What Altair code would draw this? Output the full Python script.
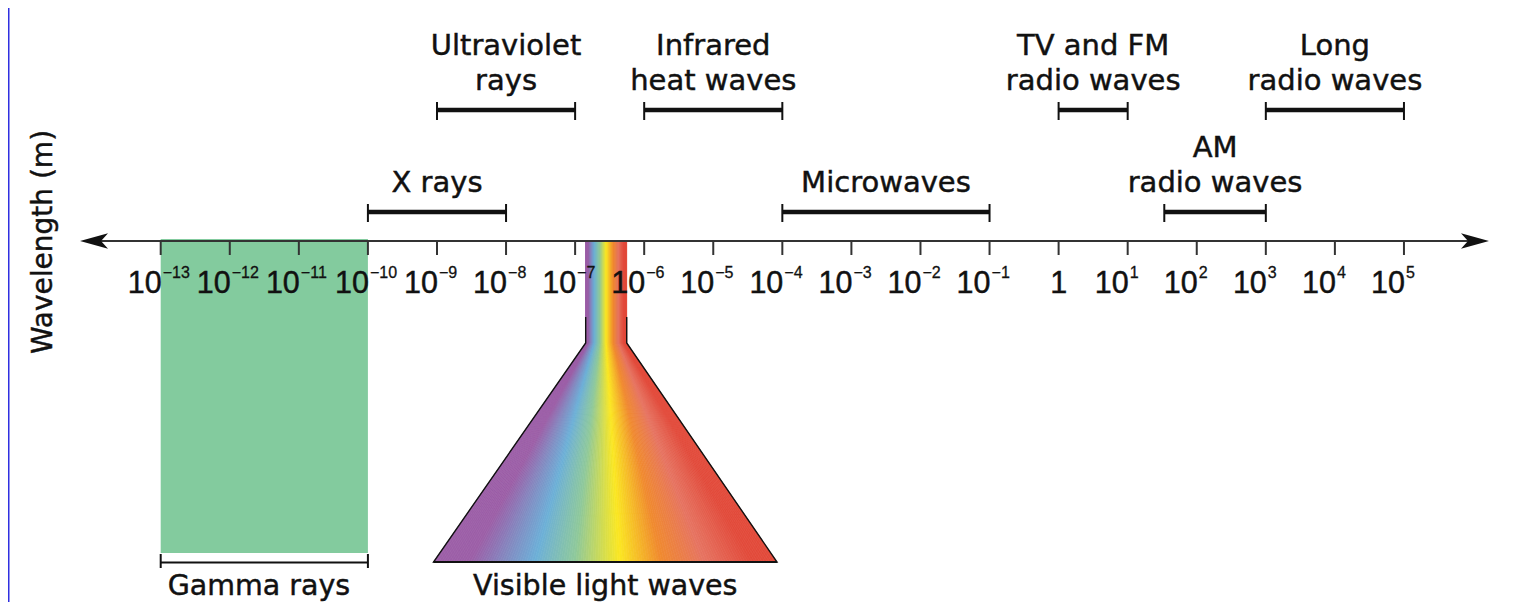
import altair as alt
import numpy as np
import pandas as pd

# ---------------- data (x = log10 of wavelength in metres) ----------------
TICK_EXP = list(range(-13, 6))
TICK_BASE = ["1" if e == 0 else "10" for e in TICK_EXP]
TICK_SUP = ["" if e == 0 else str(e).replace("-", "\u2212") for e in TICK_EXP]

BAND_TOP_LINE = ["", "Ultraviolet", "Infrared", "", "TV and FM", "AM", "Long"]
BAND_BOTTOM_LINE = ["X rays", "rays", "heat waves", "Microwaves",
                    "radio waves", "radio waves", "radio waves"]
BAND_LO = [-10, -9, -6, -4, 0, 1.53, 3]
BAND_HI = [-8, -7, -4, -1, 1, 3, 5]
BAND_TIER = [1, 2, 2, 1, 2, 1, 2]

GAMMA_LABEL = ["Gamma rays"]
GAMMA_LO = [-13]
GAMMA_HI = [-10]

VIS_LABEL = ["Visible light waves"]
VIS_COLORS = ["#9c5fa7", "#6db0d8", "#8fc99b", "#fbe823", "#f08a2f", "#e67462", "#e24b3b"]
# band boundaries / centres: left edge, 7 colour centres, right edge
VIS_BASE = [-9.050, -8.522, -7.581, -7.002, -6.350, -5.742, -5.120, -4.439, -4.077]
VIS_NECK = [-6.847, -6.806, -6.719, -6.640, -6.546, -6.444, -6.365, -6.292, -6.253]

AXIS_ENDS = [-14.168, 6.231]
AXIS_TITLE = ["Wavelength (m)"]

# ---------------- layout / style ----------------
W, H = 1500, 594
X_DOMAIN = [-15.2108, 6.5063]
AXIS_Y = 233
TICK_Y2 = 247
TIER_SCALE = alt.Scale(domain=[1, 2], range=[204, 102], nice=False, zero=False)
CONE_SCALE = alt.Scale(domain=[0, 1, 2], range=[233, 335, 554], nice=False, zero=False)
NECK_LINE_TOP = 0.745
LABEL_FONT = "DejaVu Sans"
NUM_FONT = "Liberation Sans"
INK = "#111111"
LINE_GAP = 35
TXT = dict(color=INK, stroke=INK, strokeWidth=0.45)


def X(field, **kw):
    return alt.X(field, type="quantitative",
                 scale=alt.Scale(domain=X_DOMAIN, nice=False, zero=False),
                 axis=None, **kw)


one = pd.DataFrame({"k": [0]})
ticks_df = pd.DataFrame({"exp": TICK_EXP, "base": TICK_BASE, "sup": TICK_SUP})
bands_df = pd.DataFrame({"top": BAND_TOP_LINE, "bottom": BAND_BOTTOM_LINE,
                         "lo": BAND_LO, "hi": BAND_HI, "tier": BAND_TIER})
gamma_df = pd.DataFrame({"label": GAMMA_LABEL, "lo": GAMMA_LO, "hi": GAMMA_HI})
vis_df = pd.DataFrame({"label": VIS_LABEL, "lo": [VIS_BASE[0]], "hi": [VIS_BASE[-1]]})
axis_df = pd.DataFrame({"lo": [AXIS_ENDS[0]], "hi": [AXIS_ENDS[1]]})
title_df = pd.DataFrame({"t": AXIS_TITLE})

# rainbow fan drawn as thin wedges coloured through a colour scale
u_stops = (np.array(VIS_BASE) - VIS_BASE[0]) / (VIS_BASE[-1] - VIS_BASE[0])
n_strips = 140
edges = np.linspace(0, 1, n_strips + 1)
rows = []
for i in range(n_strips):
    a, b = edges[i], edges[i + 1]
    nl, nr = np.interp([a, b], u_stops, VIS_NECK)
    bl, br = np.interp([a, b], u_stops, VIS_BASE)
    um = (a + b) / 2
    for lvl, (l, r) in zip([0, 1, 2], [(nl, nr), (nl, nr), (bl, br)]):
        rows.append({"strip": i, "level": lvl, "xl": l, "xr": r, "u": um})
strips_df = pd.DataFrame(rows)
color_scale = alt.Scale(domain=list(u_stops[1:-1]), range=VIS_COLORS, clamp=True, interpolate="rgb")

outline_df = pd.DataFrame({
    "x": [VIS_NECK[0], VIS_NECK[0], VIS_BASE[0], VIS_BASE[-1], VIS_NECK[-1], VIS_NECK[-1]],
    "level": [NECK_LINE_TOP, 1, 2, 2, 1, NECK_LINE_TOP],
    "o": list(range(6)),
})

# ---------------- layers ----------------
frame = alt.Chart(one).mark_rect(color="#2f2fe0").encode(
    x=alt.value(0), x2=alt.value(1.5), y=alt.value(0), y2=alt.value(H))

gamma_rect = alt.Chart(gamma_df).mark_rect(color="#83cb9e").encode(
    x=X("lo"), x2="hi:Q", y=alt.value(231), y2=alt.value(545))

cone = alt.Chart(strips_df).mark_area(orient="horizontal", strokeWidth=0.7, opacity=1).encode(
    y=alt.Y("level:Q", scale=CONE_SCALE, axis=None),
    x=X("xl", stack=False),
    x2="xr:Q",
    detail="strip:N",
    fill=alt.Fill("u:Q", scale=color_scale, legend=None),
    stroke=alt.Stroke("u:Q", scale=color_scale, legend=None),
)

outline = alt.Chart(outline_df).mark_line(color=INK, strokeWidth=1.4).encode(
    x=X("x"), y=alt.Y("level:Q", scale=CONE_SCALE, axis=None), order="o:Q")

cone_base = alt.Chart(vis_df).mark_rule(color=INK, strokeWidth=2).encode(
    x=X("lo"), x2="hi:Q", y=alt.value(554))

axis_line = alt.Chart(axis_df).mark_rule(color="#333333", strokeWidth=2, xOffset=6, x2Offset=-6).encode(
    x=X("lo"), x2="hi:Q", y=alt.value(AXIS_Y))

tick_marks = alt.Chart(ticks_df).mark_rule(color="#333333", strokeWidth=2).encode(
    x=X("exp"), y=alt.value(AXIS_Y), y2=alt.value(TICK_Y2))

arrow_left = alt.Chart(axis_df).mark_point(
    shape="M -1 0 L 1 -0.55 L 0.5 0 L 1 0.55 Z", size=784, filled=True, opacity=1,
    color=INK, strokeWidth=0, xOffset=14).encode(x=X("lo"), y=alt.value(AXIS_Y))
arrow_right = alt.Chart(axis_df).mark_point(
    shape="M 1 0 L -1 -0.55 L -0.5 0 L -1 0.55 Z", size=784, filled=True, opacity=1,
    color=INK, strokeWidth=0, xOffset=-14).encode(x=X("hi"), y=alt.value(AXIS_Y))

bracket_line = alt.Chart(bands_df).mark_rule(color=INK, strokeWidth=4.5, strokeCap="butt").encode(
    x=X("lo"), x2="hi:Q", y=alt.Y("tier:Q", scale=TIER_SCALE, axis=None))
bracket_caps = alt.Chart(bands_df).transform_fold(["lo", "hi"], as_=["end", "pos"]).mark_rule(
    color=INK, strokeWidth=2, yOffset=-8, y2Offset=10).encode(
    x=X("pos"), y=alt.Y("tier:Q", scale=TIER_SCALE, axis=None), y2="tier:Q")
label_base = alt.Chart(bands_df).transform_calculate(mid="(datum.lo + datum.hi) / 2")
band_bottom = label_base.mark_text(
    font=LABEL_FONT, fontSize=29, align="center", baseline="bottom", dy=-14, **TXT).encode(
    x=X("mid"), y=alt.Y("tier:Q", scale=TIER_SCALE, axis=None), text="bottom:N")
band_top = label_base.transform_filter("datum.top != ''").mark_text(
    font=LABEL_FONT, fontSize=29, align="center", baseline="bottom", dy=-14 - LINE_GAP, **TXT).encode(
    x=X("mid"), y=alt.Y("tier:Q", scale=TIER_SCALE, axis=None), text="top:N")

gamma_line = alt.Chart(gamma_df).mark_rule(color=INK, strokeWidth=2).encode(
    x=X("lo"), x2="hi:Q", y=alt.value(554.5))
gamma_caps = alt.Chart(gamma_df).transform_fold(["lo", "hi"], as_=["end", "pos"]).mark_rule(
    color=INK, strokeWidth=2).encode(x=X("pos"), y=alt.value(546), y2=alt.value(560))
gamma_text = alt.Chart(gamma_df).mark_text(
    font=LABEL_FONT, fontSize=28.5, align="left", baseline="alphabetic", dx=7, **TXT).encode(
    x=X("lo"), y=alt.value(587), text="label:N")

vis_text = alt.Chart(vis_df).transform_calculate(mid="(datum.lo + datum.hi) / 2").mark_text(
    font=LABEL_FONT, fontSize=28.5, align="center", baseline="alphabetic", **TXT).encode(
    x=X("mid"), y=alt.value(587), text="label:N")

tick_base = alt.Chart(ticks_df).transform_filter("datum.exp != 0").mark_text(
    font=NUM_FONT, fontSize=30.5, align="right", baseline="alphabetic", dx=1, **TXT).encode(
    x=X("exp"), y=alt.value(285), text="base:N")
tick_one = alt.Chart(ticks_df).transform_filter("datum.exp == 0").mark_text(
    font=NUM_FONT, fontSize=30.5, align="center", baseline="alphabetic", **TXT).encode(
    x=X("exp"), y=alt.value(285), text="base:N")
tick_sup = alt.Chart(ticks_df).transform_filter("datum.exp != 0").mark_text(
    font=NUM_FONT, fontSize=16, align="left", baseline="alphabetic", dx=2, color=INK,
    stroke=INK, strokeWidth=0.3).encode(
    x=X("exp"), y=alt.value(270), text="sup:N")

title = alt.Chart(title_df).mark_text(
    font=LABEL_FONT, fontSize=28, angle=270, align="center", baseline="alphabetic", **TXT).encode(
    x=alt.value(44), y=alt.value(234), text="t:N")

chart = alt.layer(
    frame, gamma_rect, cone, outline, cone_base, axis_line, tick_marks, arrow_left, arrow_right,
    bracket_line, bracket_caps, band_bottom, band_top, gamma_line, gamma_caps, gamma_text, vis_text,
    tick_base, tick_one, tick_sup, title,
).resolve_scale(y="independent").properties(
    width=W, height=H, padding=0, autosize=alt.AutoSizeParams(type="none"), background="white",
).configure_view(strokeWidth=0)

chart.save("out.html", embed_options={"renderer": "svg", "actions": False})
